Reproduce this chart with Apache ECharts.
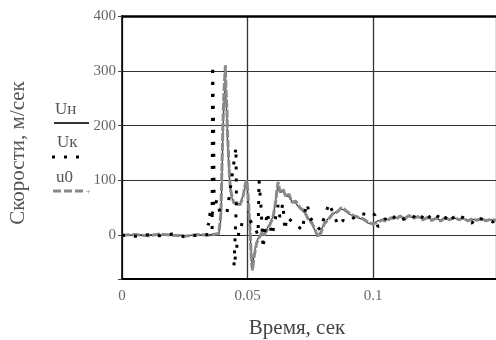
<!DOCTYPE html>
<html>
<head>
<meta charset="utf-8">
<script src="https://cdn.jsdelivr.net/npm/echarts@6/dist/echarts.min.js"></script>
<style>
  html, body { margin: 0; padding: 0; background: #fff; }
  #chart { width: 496px; height: 340px; }
</style>
</head>
<body>
<div id="chart"></div>
<script>
// время, сек (общая сетка для u0 и Uн)
const tMain = [0, 0.0052, 0.0104, 0.0151, 0.0199, 0.0251, 0.0299, 0.0343, 0.0375, 0.0386,
  0.0394, 0.0398, 0.0402, 0.0406, 0.0412, 0.0414, 0.0418, 0.0420, 0.0424, 0.0428,
  0.0432, 0.0438, 0.0446, 0.0458, 0.0470, 0.0482, 0.0492, 0.0498, 0.0504, 0.0510,
  0.0516, 0.0520, 0.0526, 0.0536, 0.0546, 0.0558, 0.0566, 0.0578, 0.0590, 0.0602,
  0.0612, 0.0618, 0.0622, 0.0629, 0.0641, 0.0653, 0.0665, 0.0677, 0.0693, 0.0709,
  0.0725, 0.0741, 0.0757, 0.0769, 0.0781, 0.0793, 0.0805, 0.0821, 0.0841, 0.0857,
  0.0873, 0.0884, 0.0900, 0.0920, 0.0940, 0.0960, 0.0980, 0.1000,
  0.1018, 0.1036, 0.1054, 0.1072, 0.1090, 0.1108, 0.1126, 0.1144, 0.1162, 0.1180,
  0.1198, 0.1216, 0.1234, 0.1252, 0.1270, 0.1288, 0.1306, 0.1324, 0.1342, 0.1360,
  0.1378, 0.1396, 0.1414, 0.1432, 0.1450, 0.1468, 0.1490];

const u0 = [0, 1, -1, 2, 0, -2, 1, 0, 2, 3,
  40, 120, 200, 260, 310, 270, 230, 190, 150, 110,
  85, 70, 58, 60, 55, 70, 95, 100, 60, 10,
  -50, -64, -40, -15, -5, 5, 0, 10, 20, 33,
  60, 85, 97, 80, 85, 70, 75, 60, 62, 50,
  45, 30, 22, 10, -4, 5, 20, 28, 40, 42,
  50, 48, 42, 36, 33, 30, 24, 20,
  24, 28, 25, 32, 29, 35, 30, 36, 31, 34,
  28, 32, 27, 31, 26, 32, 28, 33, 28, 31,
  26, 30, 27, 31, 26, 29, 27];

const uN = [0, 0, 1, 0, 1, -1, 0, 1, 1, 2,
  30, 100, 180, 240, 290, 250, 215, 175, 140, 105,
  80, 68, 60, 58, 57, 72, 90, 95, 55, 5,
  -45, -58, -35, -12, -3, 3, 2, 12, 22, 35,
  62, 82, 92, 78, 80, 72, 70, 62, 58, 48,
  42, 32, 20, 8, -2, 8, 22, 30, 38, 44,
  48, 46, 40, 35, 32, 28, 22, 21,
  26, 27, 28, 30, 31, 33, 32, 34, 32, 33,
  30, 31, 29, 30, 28, 30, 29, 31, 29, 30,
  28, 29, 28, 30, 28, 28, 28];

// Uк — своя сетка времени
const tK = [0, 0.0052, 0.0104, 0.0151, 0.0199, 0.0251, 0.0299, 0.0343, 0.0359,
  0.0361, 0.0365, 0.0367, 0.0351, 0.0343, 0.0378, 0.0390, 0.0418, 0.0454, 0.0456,
  0.0446, 0.0470, 0.0490, 0.0510, 0.0530, 0.0542, 0.0546, 0.0554, 0.0562, 0.0578,
  0.0598, 0.0622, 0.0629, 0.0641, 0.0649, 0.0657, 0.0689, 0.0721, 0.0725, 0.0737,
  0.0749, 0.0757, 0.0789, 0.0825, 0.0861, 0.0880, 0.0900, 0.0948, 0.0988, 0.1000,
  0.1008, 0.1020, 0.1048, 0.1068, 0.1088, 0.1108, 0.1127, 0.1147, 0.1167, 0.1187,
  0.1207, 0.1235, 0.1251, 0.1267, 0.1283, 0.1299, 0.1327, 0.1343, 0.1359, 0.1394,
  0.1410, 0.1426, 0.1454, 0.1478, 0.1490];

const uK = [0, -2, 1, -1, 2, -3, 0, 1, 2,
  310, 200, 60, 40, 18, 64, 42, 40, 160, 60,
  -58, 20, 18, 27, 13, 0, 100, 50, -24, 42,
  0, 55, 33, 58, 9, 33, 20, 9, 36, 58,
  33, 27, 10, 58, 18, 27, 24, 40, 36, 40,
  36, 15, 30, 24, 35, 27, 30, 37, 33, 26,
  42, 28, 36, 32, 25, 40, 28, 35, 32, 22,
  33, 30, 28, 24, 30];

const xTicks = [0, 0.05, 0.1];
const yTicks = [0, 100, 200, 300, 400];

const zip = (t, v) => t.map((x, i) => [x, v[i]]);
const serif = 'Liberation Serif, Times New Roman, serif';

const chart = echarts.init(document.getElementById('chart'));
chart.setOption({
  animation: false,
  grid: { left: 122, right: 0, top: 16, bottom: 61, containLabel: false, outerBoundsMode: 'none' },
  xAxis: [{
    type: 'value', min: 0, max: 0.149, interval: 0.05,
    axisLine: { show: true, onZero: false, lineStyle: { color: '#000', width: 2 } },
    axisTick: { show: false },
    axisLabel: {
      margin: 10, color: '#666', fontFamily: serif, fontSize: 15,
      formatter: v => xTicks.some(t => Math.abs(t - v) < 1e-9) ? String(v) : ''
    },
    splitLine: { show: true, lineStyle: { color: '#333', width: 1.3 } }
  }, {
    type: 'value', min: 0, max: 0.149, position: 'top',
    axisLine: { show: true, onZero: false, lineStyle: { color: '#000', width: 2.5 } },
    axisTick: { show: false }, axisLabel: { show: false }, splitLine: { show: false }
  }],
  yAxis: {
    type: 'value', min: -80, max: 400, splitNumber: 5,
    axisLine: { show: true, onZero: false, lineStyle: { color: '#000', width: 1.5 } },
    axisTick: { show: true, length: 4, lineStyle: { color: '#444' } },
    axisLabel: {
      margin: 6, color: '#666', fontFamily: serif, fontSize: 15,
      formatter: v => yTicks.includes(v) ? String(v) : ''
    },
    splitLine: { show: true, lineStyle: { color: '#333', width: 1 } }
  },
  series: [{
    name: 'Uн', type: 'line', data: zip(tMain, uN), showSymbol: false,
    lineStyle: { color: '#333', width: 1.2 }
  }, {
    name: 'u0', type: 'line', data: zip(tMain, u0), showSymbol: false,
    lineStyle: { color: '#8a8a8a', width: 3, type: [8, 2] }
  }, {
    name: 'Uк', type: 'line', data: zip(tK, uK), showSymbol: false,
    lineStyle: { color: '#000', width: 3, type: [3, 9], cap: 'butt' }
  }],
  graphic: [
    { type: 'text', x: 18, y: 153, rotation: Math.PI / 2, style: {
      text: 'Скорости, м/сек', fill: '#555', font: '21px ' + serif,
      align: 'center', verticalAlign: 'middle' } },
    { type: 'text', x: 297, y: 328, style: {
      text: 'Время, сек', fill: '#444', font: '21px ' + serif,
      align: 'center', verticalAlign: 'middle' } },
    { type: 'text', x: 55, y: 110, style: { text: 'Uн', fill: '#555', font: '17px ' + serif, verticalAlign: 'middle' } },
    { type: 'line', shape: { x1: 54, y1: 123, x2: 89, y2: 123 }, style: { stroke: '#333', lineWidth: 2 } },
    { type: 'text', x: 57, y: 143, style: { text: 'Uк', fill: '#555', font: '17px ' + serif, verticalAlign: 'middle' } },
    { type: 'line', shape: { x1: 52, y1: 157, x2: 82, y2: 157 }, style: { stroke: '#000', lineWidth: 3, lineDash: [3, 9] } },
    { type: 'text', x: 56, y: 178, style: { text: 'u0', fill: '#555', font: '17px ' + serif, verticalAlign: 'middle' } },
    { type: 'line', shape: { x1: 53, y1: 191, x2: 84, y2: 191 }, style: { stroke: '#888', lineWidth: 3, lineDash: [8, 3] } },
    { type: 'text', x: 86, y: 192, style: { text: '+', fill: '#888', font: '8px ' + serif, verticalAlign: 'middle' } }
  ]
});
</script>
</body>
</html>
